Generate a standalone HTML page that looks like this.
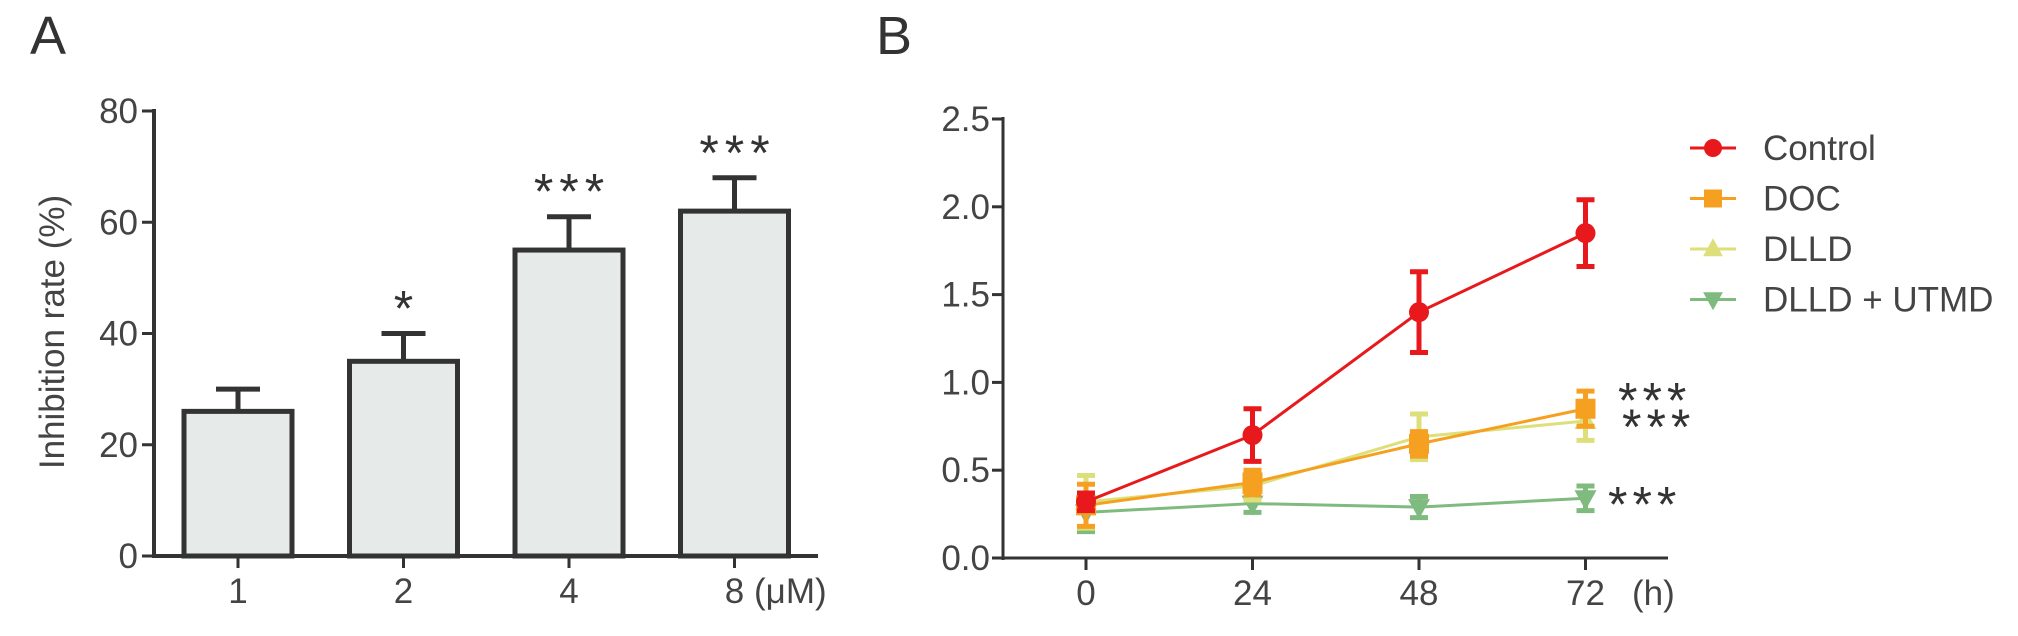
<!DOCTYPE html>
<html><head><meta charset="utf-8">
<style>
html,body{margin:0;padding:0;background:#fff;}
svg{display:block;font-family:"Liberation Sans",sans-serif;}
</style></head>
<body>
<svg id="fig" width="2018" height="636" viewBox="0 0 2018 636" xmlns="http://www.w3.org/2000/svg">
<text x="30" y="54" font-size="54" fill="#333">A</text>
<text x="876" y="54" font-size="54" fill="#333">B</text>
<g id="pa"></g>
<g id="pb"></g>
</svg>
<script>
const barCats=['1','2','4','8'];
const barVals=[26,35,55,62];
const barErr=[4,5,6,6];
const barSig=['','*','***','***'];
const aTicks=[0,20,40,60,80];

const timeCats=[0,24,48,72];
const ctrlVals=[0.32,0.70,1.40,1.85];
const ctrlErr=[0.05,0.15,0.23,0.19];
const docVals=[0.30,0.43,0.65,0.85];
const docErr=[0.12,0.07,0.07,0.10];
const dlldVals=[0.32,0.41,0.69,0.78];
const dlldErr=[0.15,0.08,0.13,0.11];
const utmdVals=[0.26,0.31,0.29,0.34];
const utmdErr=[0.11,0.05,0.06,0.07];
const bTicks=[0.0,0.5,1.0,1.5,2.0,2.5];
const seriesNames=['Control','DOC','DLLD','DLLD + UTMD'];
const sigLabels=['***','***','***'];

const NS='http://www.w3.org/2000/svg';
const FS=35;
function mk(p,t,a){const e=document.createElementNS(NS,t);for(const k in a)e.setAttribute(k,a[k]);p.appendChild(e);return e;}

// Panel A
const pa=document.getElementById('pa');
const ayA=v=>556-(v/80)*445;
const axA=i=>238+i*165.5;
let e;
e=mk(pa,'line',{x1:154,y1:109,x2:154,y2:558,stroke:'#333','stroke-width':4});

e=mk(pa,'line',{x1:152,y1:556,x2:818,y2:556,stroke:'#333','stroke-width':4});

aTicks.forEach(t=>{
  e=mk(pa,'line',{x1:142,y1:ayA(t),x2:154,y2:ayA(t),stroke:'#333','stroke-width':3});
  
  e=mk(pa,'text',{x:138,y:ayA(t)+12,'font-size':FS,fill:'#444','text-anchor':'end'});
  e.textContent=t;
  
});
e=mk(pa,'text',{x:0,y:0,'font-size':FS,fill:'#444','text-anchor':'middle',transform:'translate(64,332) rotate(-90)'});
e.textContent='Inhibition rate (%)';

barCats.forEach((c,i)=>{
  const cx=axA(i),w=108;
  e=mk(pa,'line',{x1:cx,y1:ayA(barVals[i]+barErr[i]),x2:cx,y2:ayA(barVals[i]),stroke:'#333','stroke-width':5});
  
  e=mk(pa,'line',{x1:cx-22,y1:ayA(barVals[i]+barErr[i]),x2:cx+22,y2:ayA(barVals[i]+barErr[i]),stroke:'#333','stroke-width':5});
  
  e=mk(pa,'rect',{x:cx-w/2,y:ayA(barVals[i]),width:w,height:556-ayA(barVals[i]),fill:'#e6ebe9',stroke:'#333','stroke-width':5});
  
  e=mk(pa,'line',{x1:cx,y1:556,x2:cx,y2:568,stroke:'#333','stroke-width':3});
  
  e=mk(pa,'text',{x:cx,y:603,'font-size':FS,fill:'#444','text-anchor':'middle'});
  e.textContent=c;
  
  if(barSig[i]){
    e=mk(pa,'text',{x:cx+3,y:ayA(barVals[i]+barErr[i])-8,'font-size':50,fill:'#333','text-anchor':'middle','letter-spacing':6});
    e.textContent=barSig[i];
    
  }
});
e=mk(pa,'text',{x:754,y:603,'font-size':FS,fill:'#444'});
e.textContent='(μM)';


// Panel B
const pb=document.getElementById('pb');
const ayB=v=>558-(v/2.5)*439;
const axB=t=>1086+(t/24)*166.5;
e=mk(pb,'line',{x1:1003,y1:117,x2:1003,y2:560,stroke:'#333','stroke-width':3});

e=mk(pb,'line',{x1:1001,y1:558,x2:1668,y2:558,stroke:'#333','stroke-width':3});

bTicks.forEach(t=>{
  e=mk(pb,'line',{x1:992,y1:ayB(t),x2:1003,y2:ayB(t),stroke:'#333','stroke-width':3});
  
  e=mk(pb,'text',{x:990,y:ayB(t)+12,'font-size':FS,fill:'#444','text-anchor':'end'});
  e.textContent=t.toFixed(1);
  
});
timeCats.forEach(t=>{
  e=mk(pb,'line',{x1:axB(t),y1:558,x2:axB(t),y2:570,stroke:'#333','stroke-width':3});
  
  e=mk(pb,'text',{x:axB(t),y:605,'font-size':FS,fill:'#444','text-anchor':'middle'});
  e.textContent=t;
  
});
e=mk(pb,'text',{x:1632,y:605,'font-size':FS,fill:'#444'});
e.textContent='(h)';


const series=[[ctrlVals,ctrlErr,'#e8191c','circle'],[docVals,docErr,'#f5a020','square'],[dlldVals,dlldErr,'#dde07a','tri'],[utmdVals,utmdErr,'#7fba7f','itri']];
function marker(g,shape,x,y,col,s){
  let m;
  if(shape==='circle')m=mk(g,'circle',{cx:x,cy:y,r:s,fill:col});
  else if(shape==='square')m=mk(g,'rect',{x:x-s,y:y-s,width:2*s,height:2*s,fill:col});
  else if(shape==='tri')m=mk(g,'polygon',{points:`${x},${y-s*1.2} ${x-s*1.1},${y+s*0.8} ${x+s*1.1},${y+s*0.8}`,fill:col});
  else m=mk(g,'polygon',{points:`${x},${y+s*1.2} ${x-s*1.1},${y-s*0.8} ${x+s*1.1},${y-s*0.8}`,fill:col});
  return m;
}
[3,2,1,0].forEach(si=>{
  const [vals,errs,col,shape]=series[si];
  const g=mk(pb,'g',{});
  
  
  const pts=timeCats.map((t,i)=>axB(t)+','+ayB(vals[i])).join(' ');
  e=mk(g,'polyline',{points:pts,fill:'none',stroke:col,'stroke-width':3});
  
  timeCats.forEach((t,i)=>{
    const x=axB(t),y1=ayB(vals[i]+errs[i]),y2=ayB(vals[i]-errs[i]);
    e=mk(g,'path',{d:`M${x},${y1}V${y2}M${x-9},${y1}H${x+9}M${x-9},${y2}H${x+9}`,stroke:col,'stroke-width':5,fill:'none'});
    
    e=marker(g,shape,x,ayB(vals[i]),col,10);
    
  });
});
const sigY=[0.97,0.82,0.38];
const sigX=[1618,1622,1608];
sigLabels.forEach((s,i)=>{
  e=mk(pb,'text',{x:sigX[i],y:ayB(sigY[i])+30,'font-size':50,fill:'#333','letter-spacing':5});
  e.textContent=s;
  
});
seriesNames.forEach((n,i)=>{
  const y=148+i*50.5,[,,col,shape]=series[i];
  const g=mk(pb,'g',{});
  
  
  mk(g,'line',{x1:1690,y1:y,x2:1736,y2:y,stroke:col,'stroke-width':3});
  marker(g,shape,1713,y,col,9);
  const t=mk(g,'text',{x:1763,y:y+12,'font-size':FS,fill:'#444'});
  t.textContent=n;
});
</script>
</body></html>
